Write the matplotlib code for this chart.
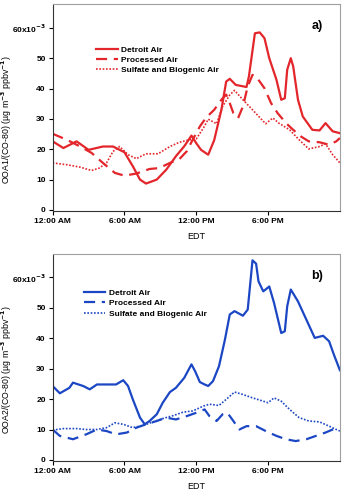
"""
Diurnal profiles of OOA1 and OOA2 normalised by CO, split by air mass type.
"""

import matplotlib
matplotlib.use("Agg")
import matplotlib.pyplot as plt
from matplotlib.ticker import FixedLocator, FixedFormatter

plt.rcParams['font.family'] = ['Liberation Sans', 'DejaVu Sans']
plt.rcParams['font.weight'] = 'bold'

# ---- panel a) OOA1 (values in 1e-3 units) ----
a_det_h = [0, 0.9, 2, 3, 4.2, 5.05, 6, 6.7, 7.3, 7.8, 8.7, 9.5, 10.3, 11, 11.6, 12, 12.4, 13,
           13.5, 14.1, 14.5, 14.8, 15.3, 16.2, 16.4, 16.9, 17.3, 17.7, 18.1, 18.7, 19.1, 19.4,
           19.6, 19.9, 20.1, 20.5, 20.9, 21.7, 22.3, 22.8, 23.4, 24]
a_det_v = [22.6, 20.4, 22.6, 19.8, 20.9, 20.9, 19, 14.4, 10, 8.7, 10, 13.3, 17.7, 21, 24.5, 22,
           19.8, 18.2, 23, 33, 42.3, 43.2, 41.2, 40.5, 44, 58.2, 58.5, 56.6, 50, 42.9, 36.3, 36.8,
           46.2, 50, 47.3, 36.3, 30.8, 26.4, 26.2, 28.6, 25.9, 25.3]

a_pro_h = [0, 1.2, 2.3, 3.25, 4.2, 5.2, 6, 7, 8.1, 8.9, 9.8, 10.6, 11.2, 11.7, 12.3, 12.8, 13.5,
           14.1, 14.5, 14.8, 15.1, 15.5, 15.9, 16.3, 16.7, 17.1, 17.7, 18.25, 18.8, 19.5, 20.1,
           20.75, 21.4, 22.3, 23.1, 23.7, 24]
a_pro_v = [25.1, 23.1, 20.9, 18.8, 15.5, 12.2, 11.3, 12, 13.5, 13.8, 15.5, 16.8, 19.3, 23.1, 27.5,
           30.3, 33, 36.3, 38, 35.2, 31.9, 30.3, 34.1, 40.7, 44.5, 43.4, 40.1, 35.2, 31.9, 28.6,
           26.4, 24.2, 22.6, 22.3, 21.5, 22.6, 23.7]

a_sul_h = [0, 1.2, 2.3, 3.25, 3.9, 4.5, 5.05, 5.6, 6.3, 7, 7.8, 8.8, 9.8, 10.6, 11.4, 12, 12.6,
           13, 13.7, 14.2, 14.8, 15.2, 15.9, 16.7, 17.8, 18.4, 18.9, 19.8, 20.6, 21.4, 22.3, 22.8,
           23.4, 24]
a_sul_v = [15.5, 14.9, 14.1, 13, 13.8, 15.5, 19.3, 20.9, 18.2, 16.9, 18.5, 18.5, 20.9, 22.3, 23.1,
           23.4, 27, 29.9, 28.4, 34.1, 37.9, 39.4, 36.3, 33, 28.4, 30.3, 28.6, 26.4, 23.1, 20.1,
           20.9, 21.8, 18.2, 15.5]

# ---- panel b) OOA2 ----
b_det_h = [0, 0.6, 1.4, 1.7, 2.55, 3.1, 3.7, 4.8, 5.3, 5.9, 6.3, 6.7, 7.3, 7.7, 8.1, 8.7, 9.2,
           9.8, 10.3, 11, 11.6, 11.9, 12.3, 12.7, 13, 13.4, 13.9, 14.4, 14.8, 15.2, 15.9, 16.3,
           16.7, 17, 17.2, 17.6, 18.1, 18.5, 19.1, 19.4, 19.6, 19.9, 20.5, 21.2, 21.9, 22.6,
           23.1, 23.5, 24]
b_det_v = [24.3, 21.9, 23.7, 25.4, 24.3, 23.2, 24.8, 24.8, 24.8, 26.2, 24.3, 19.9, 13.9, 11.7,
           12.8, 15, 18.8, 22.3, 23.7, 27, 31.4, 29.2, 25.6, 24.8, 24.3, 25.9, 30.8, 39.6, 47.8,
           48.9, 47.4, 49.4, 65.6, 64.5, 58.7, 55.4, 57, 51.6, 41.7, 42.3, 50.5, 56, 52.1, 46.1,
           40.1, 40.8, 39, 34.6, 29.5]

b_pro_h = [0, 0.6, 1.7, 2.8, 3.7, 4.5, 5.3, 6.2, 7, 7.8, 8.7, 9.5, 10.3, 11.2, 12, 12.7, 13.1,
           13.7, 14.2, 14.6, 15.1, 15.6, 16.2, 17, 17.8, 18.7, 19.5, 20.3, 21.2, 22, 22.8, 23.4, 24]
b_pro_v = [10, 7.9, 6.8, 8.4, 10, 9.5, 8.4, 9, 10.6, 11.7, 12.8, 13.9, 13.3, 14.4, 15.5, 16.6,
           14.4, 12.8, 15, 15.5, 12.8, 10, 11.1, 11.1, 9.5, 7.9, 6.8, 6.2, 6.8, 7.9, 9, 10, 10.3]

b_sul_h = [0, 0.9, 2, 2.8, 3.7, 4.5, 5.2, 5.9, 6.7, 7.6, 8.4, 9.2, 10.1, 10.9, 11.7, 12.6, 13.1,
           13.9, 14.5, 15.2, 15.9, 16.7, 17.6, 18, 18.5, 19.1, 19.8, 20.6, 21.4, 22.3, 23.1,
           23.7, 24]
b_sul_v = [9.8, 10.3, 10.3, 10, 10, 10.6, 12.2, 11.7, 10.6, 11.4, 12.5, 13.6, 14.6, 15.7, 16.1,
           17.7, 18.3, 17.9, 19.9, 22.3, 21.5, 20.4, 19.3, 18.8, 20.4, 19.3, 16.6, 13.9, 12.8,
           12.5, 11.1, 10, 9.5]

labels = ["Detroit Air", "Processed Air", "Sulfate and Biogenic Air"]
xticks = [0, 6, 12, 18]
xtick_labels = ["12:00 AM", "6:00 AM", "12:00 PM", "6:00 PM"]
yticks = [0, 10, 20, 30, 40, 50, 60]
ytick_labels = ["0", "10", "20", "30", "40", "50", "60x10$^{-3}$"]

RED = '#e3262b'
BLUE = '#1c47c4'


def style_axes(ax, ylabel, tag, legend_anchor):
    ax.set_xlim(0, 24)
    ax.set_ylim(-0.3, 67.7)
    ax.xaxis.set_major_locator(FixedLocator(xticks))
    ax.xaxis.set_major_formatter(FixedFormatter(xtick_labels))
    ax.yaxis.set_major_locator(FixedLocator(yticks))
    ax.yaxis.set_major_formatter(FixedFormatter(ytick_labels))
    ax.tick_params(labelsize=6, length=3, width=0.8, pad=2)
    for side in ['top', 'right']:
        ax.spines[side].set_color('#a0a0a0')
        ax.spines[side].set_linewidth(0.8)
    for side in ['left', 'bottom']:
        ax.spines[side].set_color('#333333')
        ax.spines[side].set_linewidth(0.8)
    ax.set_xlabel("EDT", fontsize=6.5, labelpad=5)
    ax.set_ylabel(ylabel, fontsize=6.3)
    ax.yaxis.set_label_coords(-0.135, 0.44)
    ax.text(0.92, 0.88, tag, transform=ax.transAxes, fontsize=9, fontweight='bold', ha='center')
    ax.legend(loc='upper left', bbox_to_anchor=legend_anchor, frameon=False,
              prop={'size': 6, 'weight': 'bold'}, handlelength=2.6, handletextpad=0.4,
              labelspacing=0.3, borderpad=0, borderaxespad=0)


def plot_panel(ax, det, pro, sul, color):
    kw = dict(solid_joinstyle='round', dash_joinstyle='round')
    ax.plot(det[0], det[1], color=color, lw=1.6, label=labels[0], **kw)
    ax.plot(pro[0], pro[1], color=color, lw=1.6, ls=(0, (5, 3)), label=labels[1], **kw)
    ax.plot(sul[0], sul[1], color=color, lw=1.2, ls=(0, (1, 1)), label=labels[2], **kw)


fig = plt.figure(figsize=(3.44, 4.95), dpi=100)
ax1 = fig.add_axes([0.153, 0.574, 0.835, 0.417])
ax2 = fig.add_axes([0.153, 0.069, 0.835, 0.418])

plot_panel(ax1, (a_det_h, a_det_v), (a_pro_h, a_pro_v), (a_sul_h, a_sul_v), RED)
style_axes(ax1, "OOA1/(CO-80) (µg m$^{-3}$ ppbv$^{-1}$)", "a)", (0.152, 0.80))

plot_panel(ax2, (b_det_h, b_det_v), (b_pro_h, b_pro_v), (b_sul_h, b_sul_v), BLUE)
style_axes(ax2, "OOA2/(CO-80) (µg m$^{-3}$ ppbv$^{-1}$)", "b)", (0.108, 0.83))

fig.savefig("out.png", dpi=100)
